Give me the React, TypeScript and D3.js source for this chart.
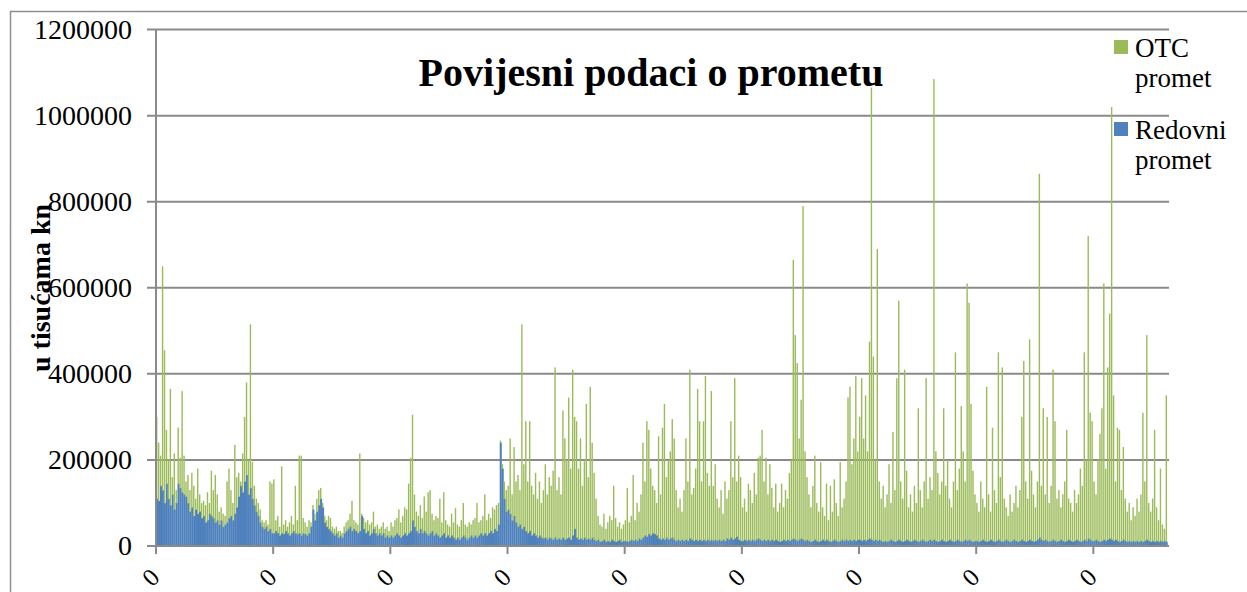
import React from 'react';
import * as d3 from 'd3';

// Daily turnover, in thousands of thousand kn (value * 1000 = thousand kn)
const redovniK: number[] = [
  // segment 1
  110,105,140,130,100,145,110,95,120,85, 100,145,135,125,120,115,100,80,90,70,
  85,75,80,65,70,55,60,75,70,65, 55,60,50,60,45,50,55,65,70,60,
  75,90,115,140,125,150,165,120,135,110, 95,80,70,55,45,40,45,35,40,30,
  // segment 2
  30,35,30,25,30,28,35,30,25,30, 35,30,28,30,25,30,28,25,30,45,
  85,60,80,95,110,90,55,45,40,35, 30,25,30,20,25,20,30,35,40,45,
  35,40,35,30,35,70,40,30,35,25, 30,40,30,25,30,25,30,20,25,20,
  // segment 3
  25,20,25,30,25,20,25,30,25,30, 35,60,45,35,30,40,30,35,30,25,
  30,35,25,30,25,20,25,30,20,25, 20,25,20,15,20,15,20,25,20,15,
  20,25,20,25,20,25,30,25,30,25, 30,35,30,40,35,50,240,180,110,80,
  // segment 4
  85,75,60,70,55,45,50,40,45,35, 30,35,25,30,25,20,25,20,18,20,
  15,20,18,15,20,15,18,15,20,15, 18,20,15,25,40,20,15,18,15,20,
  15,18,15,20,15,12,15,10,12,15, 10,12,10,15,12,10,12,15,10,12,
  // segment 5
  12,10,12,15,12,15,12,18,15,20, 25,22,28,25,30,28,25,18,15,18,
  15,20,15,18,20,15,12,15,12,15, 12,15,12,18,15,12,15,12,15,12,
  15,12,15,12,15,12,15,12,15,12, 15,12,18,15,20,15,18,22,15,12,
  // segment 6
  12,15,12,15,12,15,12,15,18,15, 12,15,12,15,12,15,12,15,12,10,
  12,15,12,15,12,15,18,15,12,15, 18,15,12,15,12,10,12,15,12,10,
  12,15,12,15,12,10,12,15,12,10, 12,15,12,15,12,15,12,15,12,15,
  // segment 7
  15,12,15,12,15,18,15,12,15,12, 15,12,10,12,10,12,15,12,10,12,
  15,12,10,12,15,12,10,12,15,12, 10,12,15,12,10,12,15,12,15,12,
  10,12,15,12,10,12,15,12,10,12, 15,12,10,12,15,12,15,12,10,12,
  // segment 8
  12,10,12,15,12,10,12,15,12,10, 12,15,12,10,12,15,12,10,12,15,
  12,10,12,15,12,10,12,15,12,10, 12,15,20,15,12,15,12,10,12,15,
  12,10,12,15,12,10,12,15,12,10, 12,15,12,10,12,15,12,18,15,12,
  // segment 9
  12,15,12,10,12,15,12,15,18,15, 12,15,12,10,12,15,12,10,12,10,
  12,10,12,10,12,10,12,15,12,10, 12,10,12,10,12,10,12,10,
];

const otcK: number[] = [
  // segment 1
  190,135,70,520,355,125,90,270,40,130, 30,130,70,235,90,35,65,50,80,70,
  25,105,40,35,35,40,65,25,105,65, 110,60,30,30,30,20,95,115,60,40,
  160,70,55,10,90,150,215,80,380,85, 45,30,30,30,15,15,15,15,110,115,
  // segment 2
  125,25,40,20,155,22,25,15,30,40, 15,110,32,180,185,35,27,20,30,10,
  10,15,30,35,25,10,15,15,30,30, 15,15,15,15,10,10,15,20,20,30,
  70,20,20,20,180,5,25,25,25,25, 25,40,15,25,10,20,25,20,20,15,
  // segment 3
  30,25,35,35,60,35,45,60,60,115, 170,245,75,45,40,55,35,80,50,100,
  100,40,35,40,40,90,30,95,40,25, 25,50,35,73,30,30,40,75,30,30,
  35,25,40,40,80,30,30,45,90,35, 45,30,60,45,60,50,5,10,40,50,
  // segment 4
  55,175,60,160,95,120,80,475,145,255, 120,255,115,90,145,90,125,80,112,170,
  105,140,122,160,395,115,142,105,295,235, 182,325,165,385,260,270,165,232,125,180,
  315,142,355,220,155,98,55,40,33,60, 30,43,60,45,128,55,33,40,30,38,
  // segment 5
  48,125,43,55,153,45,88,62,105,220, 125,268,242,155,110,102,75,237,105,257,
  315,140,185,202,275,235,118,75,98,65, 118,235,138,392,105,123,165,353,275,138,
  275,383,155,128,345,128,175,98,75,118, 60,138,92,115,270,145,372,128,195,148,
  // segment 6
  78,95,68,130,118,85,158,105,187,195, 258,135,193,105,178,120,78,130,68,90,
  133,75,118,95,158,185,647,475,413,235, 322,775,208,145,108,80,128,195,88,70,
  183,75,58,130,48,130,68,140,88,60, 183,75,98,135,333,355,178,235,383,205,
  // segment 7
  285,378,235,338,205,457,1050,428,185,678, 135,98,130,78,110,178,85,253,120,378,
  555,138,100,398,160,78,110,68,125,88, 310,118,75,138,380,98,145,118,1070,208,
  160,108,135,308,130,188,95,78,140,438, 115,168,315,208,135,598,550,318,165,108,
  // segment 8
  88,70,138,95,78,360,108,65,263,120, 88,435,148,405,98,75,58,110,68,85,
  128,80,118,285,418,140,98,465,163,110, 78,135,845,125,308,105,288,90,128,395,
  278,100,118,75,108,140,258,95,88,70, 118,85,108,170,128,435,188,702,295,278,
  // segment 9
  138,105,188,250,308,595,168,400,522,1005, 338,135,263,260,118,215,98,70,88,50,
  78,60,98,70,108,300,138,475,88,70, 98,260,78,50,168,40,28,340,
];

const yTickValues = [0, 200000, 400000, 600000, 800000, 1000000, 1200000];
const xTickLabels = ['0', '0', '0', '0', '0', '0', '0', '0', '0'];
const barsPerTick = 60;
const seriesKeys = ['redovni', 'otc'];
const legendItems = [
  { key: 'otc', lines: ['OTC', 'promet'] },
  { key: 'redovni', lines: ['Redovni', 'promet'] },
];
const colors: Record<string, string> = { redovni: '#4F81BD', otc: '#9BBB59' };
const barWidthRatio: Record<string, number> = { redovni: 1.0, otc: 0.72 };
const titleText = 'Povijesni podaci o prometu';
const yAxisTitle = 'u tisućama kn';

export default function App() {
  const W = 1247, H = 592;
  const left = 156, right = 1169, top = 29.6, bottom = 546;
  const tickSpacing = 117.17;
  const N = redovniK.length;
  const step = tickSpacing / barsPerTick;
  const x = d3.scaleLinear().domain([0, N]).range([left, left + N * step]);
  const y = d3.scaleLinear().domain([0, 1200000]).range([bottom, top]);

  const rows = redovniK.map((r, i) => ({ i, redovni: r * 1000, otc: (otcK[i] ?? 0) * 1000 }));
  const stacked = d3.stack<any>().keys(seriesKeys)(rows);

  const font = '"Liberation Serif", serif';
  const grid = '#8a8a8a';

  return (
    <svg width={W} height={H} style={{ position: 'absolute', left: 0, top: 0, background: '#fff' }}>
      <rect x={10.5} y={11.5} width={1260} height={620} fill="#fff" stroke="#8f8f8f" strokeWidth={1.5} />
      {/* gridlines */}
      {yTickValues.map((v) => (
        <line key={'g' + v} x1={left - 9} x2={right} y1={y(v)} y2={y(v)} stroke={grid} strokeWidth={2} />
      ))}
      {/* bars */}
      {stacked.map((s) => {
        const ratio = barWidthRatio[s.key];
        return (
          <g key={s.key} fill={colors[s.key]}>
            {s.map((d, i) => {
              const w = (x(i + 1) - x(i)) * ratio;
              const yTop = y(d[1]);
              const yBase = s.key === 'otc' ? y(d[0]) + 0.5 : y(d[0]);
              return (
                <rect key={i} x={x(i)} width={ratio >= 1 ? w + 0.15 : w} y={yTop} height={Math.max(0, yBase - yTop)} />
              );
            })}
          </g>
        );
      })}
      {/* axes */}
      <line x1={left} x2={left} y1={top} y2={bottom + 1} stroke={grid} strokeWidth={2} />
      <line x1={left - 9} x2={right} y1={bottom} y2={bottom} stroke={grid} strokeWidth={2} />
      {xTickLabels.map((lab, k) => {
        const xv = x(k * barsPerTick);
        return (
          <g key={'xt' + k}>
            <line x1={xv} x2={xv} y1={bottom} y2={bottom + 8} stroke={grid} strokeWidth={2} />
            <text transform={`translate(${xv + 5},${bottom + 33}) rotate(-45)`} textAnchor="end" fontFamily={font} fontSize={25} fill="#000">{lab}</text>
          </g>
        );
      })}
      {yTickValues.map((v) => (
        <text key={'yl' + v} x={132} y={y(v) + 9} textAnchor="end" fontFamily={font} fontSize={28} fill="#000">{v}</text>
      ))}
      <text transform={`translate(50,288) rotate(-90)`} textAnchor="middle" fontFamily={font} fontWeight="bold" fontSize={28} fill="#000">{yAxisTitle}</text>
      <text x={651} y={86} textAnchor="middle" fontFamily={font} fontWeight="bold" fontSize={40} fill="#000">{titleText}</text>
      {legendItems.map((it, k) => (
        <g key={it.key} transform={`translate(1114,${40 + k * 82})`}>
          <rect x={0} y={0} width={14} height={14} fill={colors[it.key]} />
          {it.lines.map((ln, j) => (
            <text key={j} x={21} y={17 + j * 30} fontFamily={font} fontSize={27} fill="#000">{ln}</text>
          ))}
        </g>
      ))}
    </svg>
  );
}
